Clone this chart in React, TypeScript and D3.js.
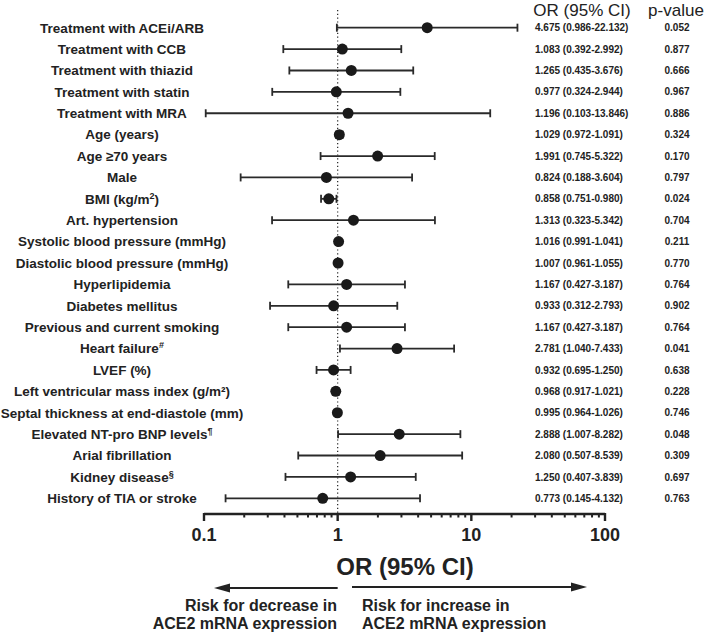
import React from "react";
import * as d3 from "d3";

const labels: string[][] = [
  ["Treatment with ACEi/ARB"],
  ["Treatment with CCB"],
  ["Treatment with thiazid"],
  ["Treatment with statin"],
  ["Treatment with MRA"],
  ["Age (years)"],
  ["Age ≥70 years"],
  ["Male"],
  ["BMI (kg/m", "2", ")"],
  ["Art. hypertension"],
  ["Systolic blood pressure (mmHg)"],
  ["Diastolic blood pressure (mmHg)"],
  ["Hyperlipidemia"],
  ["Diabetes mellitus"],
  ["Previous and current smoking"],
  ["Heart failure", "#"],
  ["LVEF (%)"],
  ["Left ventricular mass index (g/m²)"],
  ["Septal thickness at end-diastole (mm)"],
  ["Elevated NT-pro BNP levels", "¶"],
  ["Arial fibrillation"],
  ["Kidney disease", "§"],
  ["History of TIA or stroke"],
];

const orValues = [4.675, 1.083, 1.265, 0.977, 1.196, 1.029, 1.991, 0.824, 0.858, 1.313, 1.016, 1.007, 1.167, 0.933, 1.167, 2.781, 0.932, 0.968, 0.995, 2.888, 2.08, 1.25, 0.773];
const lowerCI = [0.986, 0.392, 0.435, 0.324, 0.103, 0.972, 0.745, 0.188, 0.751, 0.323, 0.991, 0.961, 0.427, 0.312, 0.427, 1.04, 0.695, 0.917, 0.964, 1.007, 0.507, 0.407, 0.145];
const upperCI = [22.132, 2.992, 3.676, 2.944, 13.846, 1.091, 5.322, 3.604, 0.98, 5.342, 1.041, 1.055, 3.187, 2.793, 3.187, 7.433, 1.25, 1.021, 1.026, 8.282, 8.539, 3.839, 4.132];
const orText = [
  "4.675 (0.986-22.132)", "1.083 (0.392-2.992)", "1.265 (0.435-3.676)", "0.977 (0.324-2.944)",
  "1.196 (0.103-13.846)", "1.029 (0.972-1.091)", "1.991 (0.745-5.322)", "0.824 (0.188-3.604)",
  "0.858 (0.751-0.980)", "1.313 (0.323-5.342)", "1.016 (0.991-1.041)", "1.007 (0.961-1.055)",
  "1.167 (0.427-3.187)", "0.933 (0.312-2.793)", "1.167 (0.427-3.187)", "2.781 (1.040-7.433)",
  "0.932 (0.695-1.250)", "0.968 (0.917-1.021)", "0.995 (0.964-1.026)", "2.888 (1.007-8.282)",
  "2.080 (0.507-8.539)", "1.250 (0.407-3.839)", "0.773 (0.145-4.132)",
];
const pValues = ["0.052", "0.877", "0.666", "0.967", "0.886", "0.324", "0.170", "0.797", "0.024", "0.704", "0.211", "0.770", "0.764", "0.902", "0.764", "0.041", "0.638", "0.228", "0.746", "0.048", "0.309", "0.697", "0.763"];
const majorTicks = [0.1, 1, 10, 100];
const majorTickLabels = ["0.1", "1", "10", "100"];

const FONT = "'Liberation Sans', Arial, Helvetica, sans-serif";
const INK = "#222";

export default function App() {
  const x = d3.scaleLog().domain([0.1, 100]).range([204, 605]);
  const idx = d3.range(labels.length);
  const y = d3.scalePoint<number>().domain(idx).range([27.7, 498.3]);
  const axisY = 514;
  const minorTicks: number[] = [];
  [0.1, 1, 10].forEach((d) => {
    for (let k = 2; k <= 9; k++) minorTicks.push(d * k);
  });
  const capH = 4;

  return (
    <svg
      width={709}
      height={634}
      style={{ position: "absolute", left: 0, top: 0, background: "#fff" }}
      fontFamily={FONT}
    >
      <rect width={709} height={634} fill="#fff" />
      {/* headers */}
      <text x={582} y={16} fontSize={17} textAnchor="middle" fill={INK}>OR (95% CI)</text>
      <text x={676} y={16} fontSize={17} textAnchor="middle" fill={INK}>p-value</text>

      {/* reference line */}
      <line x1={x(1)} x2={x(1)} y1={10} y2={axisY} stroke={INK} strokeWidth={1.2} strokeDasharray="1.2 2.6" />

      {idx.map((i) => {
        const yy = y(i)!;
        const parts = labels[i];
        return (
          <g key={i}>
            <text x={122} y={yy + 4.8} fontSize={13.5} fontWeight="bold" textAnchor="middle" fill={INK}>
              {parts[0]}
              {parts.length > 1 && (
                <tspan fontSize={9} dy={-5}>{parts[1]}</tspan>
              )}
              {parts.length > 2 && <tspan dy={5}>{parts[2]}</tspan>}
            </text>
            <line x1={x(lowerCI[i])} x2={x(upperCI[i])} y1={yy} y2={yy} stroke="#2a2a2a" strokeWidth={1.8} />
            <line x1={x(lowerCI[i])} x2={x(lowerCI[i])} y1={yy - capH} y2={yy + capH} stroke="#2a2a2a" strokeWidth={1.8} />
            <line x1={x(upperCI[i])} x2={x(upperCI[i])} y1={yy - capH} y2={yy + capH} stroke="#2a2a2a" strokeWidth={1.8} />
            <circle cx={x(orValues[i])} cy={yy} r={5.5} fill="#1a1a1a" />
            <text x={535} y={yy + 3.6} fontSize={10} fontWeight="bold" fill={INK}>{orText[i]}</text>
            <text x={677} y={yy + 3.6} fontSize={10} fontWeight="bold" textAnchor="middle" fill={INK}>{pValues[i]}</text>
          </g>
        );
      })}

      {/* axis */}
      <line x1={x(0.1)} x2={x(100)} y1={axisY} y2={axisY} stroke={INK} strokeWidth={2.4} />
      {majorTicks.map((t) => (
        <line key={"M" + t} x1={x(t)} x2={x(t)} y1={axisY - 1} y2={axisY + 7} stroke={INK} strokeWidth={2.4} />
      ))}
      {minorTicks.map((t) => (
        <line key={"m" + t} x1={x(t)} x2={x(t)} y1={axisY} y2={axisY + 3.5} stroke={INK} strokeWidth={2} />
      ))}
      {majorTicks.map((t, i) => (
        <text key={"l" + t} x={x(t)} y={541} fontSize={18} fontWeight="bold" textAnchor="middle" fill={INK}>
          {majorTickLabels[i]}
        </text>
      ))}
      <text x={405} y={575} fontSize={24} fontWeight="bold" textAnchor="middle" fill={INK}>OR (95% CI)</text>

      {/* arrows */}
      <line x1={x(1)} x2={224} y1={588} y2={588} stroke={INK} strokeWidth={2.2} />
      <path d={`M214,588 L230,583.5 L230,592.5 Z`} fill={INK} />
      <line x1={352} x2={577} y1={587} y2={587} stroke={INK} strokeWidth={2.2} />
      <path d={`M587,587 L571,582.5 L571,591.5 Z`} fill={INK} />

      <text x={337} y={611} fontSize={16} fontWeight="bold" textAnchor="end" fill={INK}>Risk for decrease in</text>
      <text x={337} y={629} fontSize={16} fontWeight="bold" textAnchor="end" fill={INK}>ACE2 mRNA expression</text>
      <text x={362} y={611} fontSize={16} fontWeight="bold" textAnchor="start" fill={INK}>Risk for increase in</text>
      <text x={362} y={629} fontSize={16} fontWeight="bold" textAnchor="start" fill={INK}>ACE2 mRNA expression</text>
    </svg>
  );
}
